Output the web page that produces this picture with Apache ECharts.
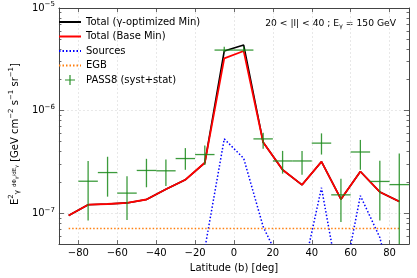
<!DOCTYPE html>
<html>
<head>
<meta charset="utf-8">
<script src="https://cdn.jsdelivr.net/npm/echarts@6/dist/echarts.min.js"></script>
<style>html,body{margin:0;padding:0;background:#fff}#c{width:417px;height:278px}</style>
</head>
<body>
<div id="c"></div>
<script>
// bin centres (deg)
const latitudes = [-85, -75, -65, -55, -45, -35, -25, -15, -5, 5, 15, 25, 35, 45, 55, 65, 75, 85];
const totalGammaOpt = [9.5e-8, 1.21e-7, 1.23e-7, 1.26e-7, 1.36e-7, 1.71e-7, 2.12e-7, 3.1e-7, 3.81e-6, 4.35e-6, 4.92e-7, 2.65e-7, 1.89e-7, 3.18e-7, 1.37e-7, 2.55e-7, 1.61e-7, 1.30e-7];
const totalBase = [9.5e-8, 1.21e-7, 1.23e-7, 1.26e-7, 1.36e-7, 1.71e-7, 2.12e-7, 3.1e-7, 3.23e-6, 3.81e-6, 4.92e-7, 2.65e-7, 1.89e-7, 3.18e-7, 1.37e-7, 2.55e-7, 1.61e-7, 1.30e-7];
const sources = [1e-9, 1e-9, 1e-9, 1e-9, 1e-9, 1e-9, 1e-9, 4.5e-8, 5.3e-7, 3.42e-7, 7.4e-8, 3.0e-8, 2.4e-8, 1.77e-7, 1.6e-8, 1.48e-7, 5.8e-8, 1e-8];
const egb = [7.1e-8, 7.1e-8, 7.1e-8, 7.1e-8, 7.1e-8, 7.1e-8, 7.1e-8, 7.1e-8, 7.1e-8, 7.1e-8, 7.1e-8, 7.1e-8, 7.1e-8, 7.1e-8, 7.1e-8, 7.1e-8, 7.1e-8, 7.1e-8];
const pass8 = [2.05e-7, 2.49e-7, 1.57e-7, 2.61e-7, 2.59e-7, 3.41e-7, 3.73e-7, 3.89e-6, 3.89e-6, 5.3e-7, 3.23e-7, 3.23e-7, 4.82e-7, 1.51e-7, 3.95e-7, 2.04e-7, 1.9e-7];
const pass8Lat = [-75, -65, -55, -45, -35, -25, -15, -5, 5, 15, 25, 35, 45, 55, 65, 75, 85];
const pass8Lo = [8.5e-8, 1.45e-7, 8.6e-8, 1.79e-7, 1.84e-7, 2.65e-7, 2.95e-7, 3.7e-6, 3.7e-6, 4.26e-7, 2.43e-7, 2.37e-7, 3.73e-7, 8.2e-8, 2.65e-7, 8.5e-8, 3.0e-8];
const pass8Hi = [3.22e-7, 3.55e-7, 2.29e-7, 3.39e-7, 3.34e-7, 4.31e-7, 4.58e-7, 4.2e-6, 4.2e-6, 6.1e-7, 4.05e-7, 4.05e-7, 6.0e-7, 2.17e-7, 5.18e-7, 3.25e-7, 3.81e-7];
const binHalfWidth = 5;
const xTicks = [-80, -60, -40, -20, 0, 20, 40, 60, 80];
const yMajor = [1e-7, 1e-6, 1e-5];
const yMinor = [6e-8, 7e-8, 8e-8, 9e-8, 2e-7, 3e-7, 4e-7, 5e-7, 6e-7, 7e-7, 8e-7, 9e-7, 2e-6, 3e-6, 4e-6, 5e-6, 6e-6, 7e-6, 8e-6, 9e-6];
const yMin = 5e-8, yMax = 1e-5;

const FONT = 'DejaVu Sans';
const frame = '#444';
const pair = (xs, ys) => xs.map((x, i) => [x, ys[i]]);

const chart = echarts.init(document.getElementById('c'), null, {renderer: 'canvas'});

function yAx(pos, vals, len, labels, split, line) {
  return {
    type: 'log', position: pos, min: yMin, max: yMax, logBase: 10,
    axisLine: {show: line, onZero: false, lineStyle: {color: frame, width: 1}},
    axisTick: {show: true, inside: true, length: len, customValues: vals, lineStyle: {color: frame, width: 0.8}},
    axisLabel: labels ? {
      show: true, customValues: yMajor, margin: 4, fontFamily: FONT, fontSize: 10, color: '#000',
      formatter: v => '{b|10}{s|−' + Math.round(-Math.log10(v)) + '}',
      rich: {b: {fontFamily: FONT, fontSize: 10, color: '#000'}, s: {fontFamily: FONT, fontSize: 7, color: '#000', padding: [0, 0, 7, 0]}}
    } : {show: false},
    splitLine: {show: split, lineStyle: {color: '#e2e2e2', type: [2, 2], width: 0.8}},
    minorTick: {show: false}
  };
}

const yAxes = [
  Object.assign(yAx('left', yMajor, 5, true, true, true), {
    name: 'E{s|2}{u|γ} {f|dΦ}{u2|γ}{f|/dE}{u2|γ} [GeV cm{s|−2} s{s|−1} sr{s|−1}]',
    nameLocation: 'middle', nameGap: 32,
    nameTextStyle: {fontFamily: FONT, fontSize: 10, color: '#000', padding: [0, 16, 0, 0],
      rich: {s: {fontFamily: FONT, fontSize: 7, padding: [0, 0, 7, 0]}, u: {fontFamily: FONT, fontSize: 7, padding: [5, 0, 0, 0]},
             f: {fontFamily: FONT, fontSize: 5.5}, u2: {fontFamily: FONT, fontSize: 4.5, padding: [3, 0, 0, 0]}}}
  }),
  yAx('left', yMinor, 2.5, false, false, false),
  yAx('right', yMajor, 5, false, false, true),
  yAx('right', yMinor, 2.5, false, false, false)
];

function errRender(params, api) {
  const x = api.value(0), y = api.value(1), lo = api.value(2), hi = api.value(3);
  const l = api.coord([x - binHalfWidth, y]);
  const r = api.coord([x + binHalfWidth, y]);
  const t = api.coord([x, hi]);
  const b = api.coord([x, lo]);
  const st = {stroke: '#1a8a1a', lineWidth: 1.3, opacity: 0.85};
  return {type: 'group', children: [
    {type: 'line', shape: {x1: l[0], y1: l[1], x2: r[0], y2: r[1]}, style: st},
    {type: 'line', shape: {x1: b[0], y1: b[1], x2: t[0], y2: t[1]}, style: st}
  ]};
}

const noSym = {opacity: 0};

chart.setOption({
  animation: false,
  grid: {left: 52, right: 8, top: 8, bottom: 29, containLabel: false},
  xAxis: [{
    type: 'value', min: -90, max: 90, position: 'bottom',
    name: 'Latitude (b) [deg]', nameLocation: 'middle', nameGap: 18,
    nameTextStyle: {fontFamily: FONT, fontSize: 10, color: '#000'},
    axisLine: {show: true, onZero: false, lineStyle: {color: frame, width: 1}},
    axisTick: {show: true, inside: true, length: 4, customValues: xTicks, lineStyle: {color: frame, width: 0.8}},
    axisLabel: {show: true, customValues: xTicks, margin: 4, fontFamily: FONT, fontSize: 10, color: '#000',
      formatter: v => (v < 0 ? '−' + (-v) : '' + v)},
    splitLine: {show: true, lineStyle: {color: '#e2e2e2', type: [2, 2], width: 0.8}}
  }, {
    type: 'value', min: -90, max: 90, position: 'top',
    axisLine: {show: true, onZero: false, lineStyle: {color: frame, width: 1}},
    axisTick: {show: true, inside: true, length: 4, customValues: xTicks, lineStyle: {color: frame, width: 0.8}},
    axisLabel: {show: false}, splitLine: {show: false}
  }],
  yAxis: yAxes,
  legend: {
    left: 58, top: 17, orient: 'vertical', padding: 0, itemGap: 4.5,
    itemWidth: 22, itemHeight: 10,
    textStyle: {fontFamily: FONT, fontSize: 10, color: '#000'},
    data: [
      {name: 'Total (γ-optimized Min)', itemStyle: noSym},
      {name: 'Total (Base Min)', itemStyle: noSym},
      {name: 'Sources', itemStyle: noSym},
      {name: 'EGB', itemStyle: noSym},
      {name: 'PASS8 (syst+stat)', icon: 'path://M4.4,0 L5.6,0 L5.6,4.4 L10,4.4 L10,5.6 L5.6,5.6 L5.6,10 L4.4,10 L4.4,5.6 L0,5.6 L0,4.4 L4.4,4.4 Z', itemStyle: {color: '#2a922a'}}
    ]
  },
  graphic: [{
    type: 'text', right: 21, top: 19,
    style: {text: '20 < |l| < 40 ; E{s|γ} = 150 GeV', fontFamily: FONT, fontSize: 9.2, fill: '#000',
      rich: {s: {fontFamily: FONT, fontSize: 6.5, padding: [5, 0, 0, 0]}}}
  }],
  series: [
    {name: 'Total (γ-optimized Min)', type: 'line', data: pair(latitudes, totalGammaOpt), symbol: 'none',
     lineStyle: {color: '#000', width: 1.6}, itemStyle: {color: '#000'}, z: 3},
    {name: 'Total (Base Min)', type: 'line', data: pair(latitudes, totalBase), symbol: 'none',
     lineStyle: {color: '#ff0000', width: 1.8}, itemStyle: {color: '#ff0000'}, z: 4},
    {name: 'Sources', type: 'line', data: pair(latitudes, sources), symbol: 'none',
     lineStyle: {color: '#0000ff', width: 1.5, type: [1.5, 2]}, itemStyle: {color: '#0000ff'}, z: 3},
    {name: 'EGB', type: 'line', data: pair(latitudes, egb), symbol: 'none',
     lineStyle: {color: '#ff7f0e', width: 1.5, type: [1.5, 2]}, itemStyle: {color: '#ff7f0e'}, z: 3},
    {name: 'PASS8 (syst+stat)', type: 'custom', clip: true, z: 5,
     itemStyle: {color: '#2ca02c'},
     encode: {x: 0, y: 1},
     renderItem: errRender,
     data: pass8Lat.map((x, i) => [x, pass8[i], pass8Lo[i], pass8Hi[i]])}
  ]
});
</script>
</body>
</html>
